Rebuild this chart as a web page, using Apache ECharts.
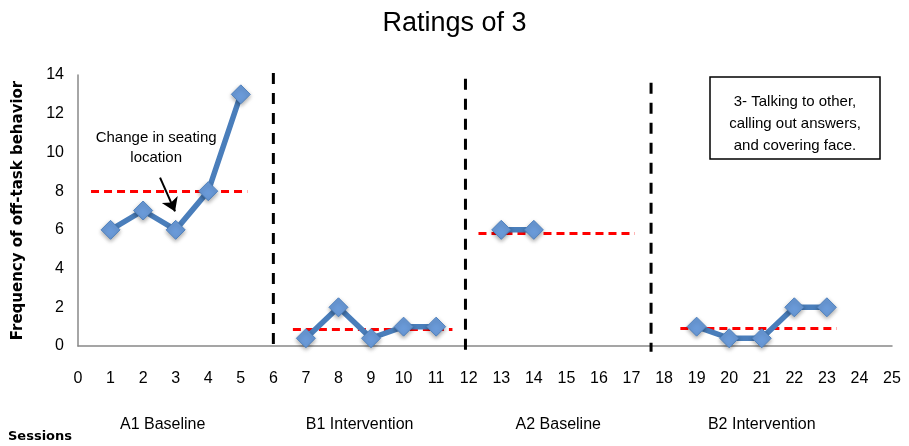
<!DOCTYPE html>
<html><head><meta charset="utf-8">
<script src="https://cdn.jsdelivr.net/npm/echarts@6/dist/echarts.min.js"></script>
<style>html,body{margin:0;padding:0;background:#fff}#c{width:909px;height:446px}</style>
</head><body><div id="c"></div>
<script>
var sessionsA1 = [1, 2, 3, 4, 5];
var valuesA1 = [6, 7, 6, 8, 13];
var sessionsB1 = [7, 8, 9, 10, 11];
var valuesB1 = [0.4, 2, 0.4, 1, 1];
var sessionsA2 = [13, 14];
var valuesA2 = [6, 6];
var sessionsB2 = [19, 20, 21, 22, 23];
var valuesB2 = [1, 0.4, 0.4, 2, 2];
var phaseLineX = [6, 11.9, 17.6];
var phaseLineTop = [14.1, 13.8, 13.6];
var meanLevels = [8, 0.85, 5.85, 0.9];
var meanStart = [0.4, 6.6, 12.3, 18.5];
var meanEnd = [5.2, 11.5, 17.1, 23.3];
var phaseNames = ['A1 Baseline', 'B1 Intervention', 'A2 Baseline', 'B2 Intervention'];
var phaseCenters = [2.6, 8.65, 14.75, 21.0];

var font = "'Liberation Sans',sans-serif";
var boldFont = "'DejaVu Sans',sans-serif";
function pairs(xs, ys){ return xs.map(function(x,i){return [x, ys[i]];}); }

var chart = echarts.init(document.getElementById('c'));
var lineStyle = {color:'#4a7ebb', width:5.5};
var itemStyle = {color:'#6a9ad8', borderColor:'#4f81bd', borderWidth:1, shadowColor:'rgba(0,0,0,0.35)', shadowBlur:4, shadowOffsetY:2};
function phaseSeries(xs, ys){
  return {type:'line', data:pairs(xs, ys), symbol:'diamond', symbolSize:19, lineStyle:lineStyle, itemStyle:itemStyle, z:5, animation:false};
}
var meanLines = meanLevels.map(function(v,i){
  return [{coord:[meanStart[i], v]}, {coord:[meanEnd[i], v]}];
});

var option = {
  animation:false,
  title:{text:'Ratings of 3', left:'center', top:5, textStyle:{fontFamily:font, fontSize:27, fontWeight:'normal', color:'#000'}},
  grid:{left:78, right:17, top:75, bottom:100},
  xAxis:{type:'value', min:0, max:25, interval:1,
    axisLine:{lineStyle:{color:'#888', width:1.5}}, axisTick:{show:false}, splitLine:{show:false},
    axisLabel:{margin:25, fontFamily:font, fontSize:16, color:'#000'}},
  yAxis:{type:'value', min:0, max:14, interval:2,
    name:'Frequency of off-task behavior', nameLocation:'middle', nameGap:52,
    nameTextStyle:{fontFamily:boldFont, fontWeight:'bold', fontSize:15, color:'#000'},
    axisLine:{show:true, lineStyle:{color:'#888', width:1.5}}, axisTick:{show:false}, splitLine:{show:false},
    axisLabel:{margin:14, fontFamily:font, fontSize:16, color:'#000'}},
  series:[
    phaseSeries(sessionsA1, valuesA1),
    phaseSeries(sessionsB1, valuesB1),
    phaseSeries(sessionsA2, valuesA2),
    phaseSeries(sessionsB2, valuesB2),
    {type:'line', data:[], silent:true, z:4,
      markLine:{symbol:'none', silent:true, label:{show:false},
        lineStyle:{color:'#ff0000', width:3, type:[8,5]}, data:meanLines}},
    {type:'line', data:[], silent:true, z:6,
      markLine:{symbol:['none','arrow'], symbolSize:13, silent:true, label:{show:false},
        lineStyle:{color:'#000', width:2, type:'solid'},
        data:[[{coord:[2.52, 8.7]}, {coord:[2.98, 6.95]}]]}}
  ]
};
chart.setOption(option);

function px(x, y){ return chart.convertToPixel({gridIndex:0}, [x, y]); }
var g = [];
phaseLineX.forEach(function(x, i){
  var a = px(x, phaseLineTop[i]), b = px(x, -0.3);
  g.push({type:'line', z:3, shape:{x1:a[0], y1:a[1], x2:b[0], y2:b[1]}, style:{stroke:'#000', lineWidth:3, lineDash:[11,9]}});
});
phaseNames.forEach(function(n, i){
  var p = px(phaseCenters[i], 0);
  g.push({type:'text', x:p[0], y:425, style:{text:n, fontFamily:font, fontSize:16, fill:'#000', align:'center', verticalAlign:'middle'}});
});
g.push({type:'text', x:8, y:437, style:{text:'Sessions', fontFamily:boldFont, fontWeight:'bold', fontSize:13, fill:'#000', verticalAlign:'middle'}});
var ct = px(2.4, 10.25);
g.push({type:'text', x:ct[0], y:ct[1], style:{text:'Change in seating\nlocation', fontFamily:font, fontSize:15, lineHeight:20, fill:'#000', align:'center', verticalAlign:'middle'}});
g.push({type:'rect', shape:{x:710, y:77, width:170, height:82}, style:{fill:'#fff', stroke:'#000', lineWidth:1.5}});
g.push({type:'text', x:795, y:124, style:{text:'3- Talking to other,\ncalling out answers,\nand covering face.', fontFamily:font, fontSize:15, lineHeight:22, fill:'#000', align:'center', verticalAlign:'middle'}});
chart.setOption({graphic:g});
</script>
</body></html>
